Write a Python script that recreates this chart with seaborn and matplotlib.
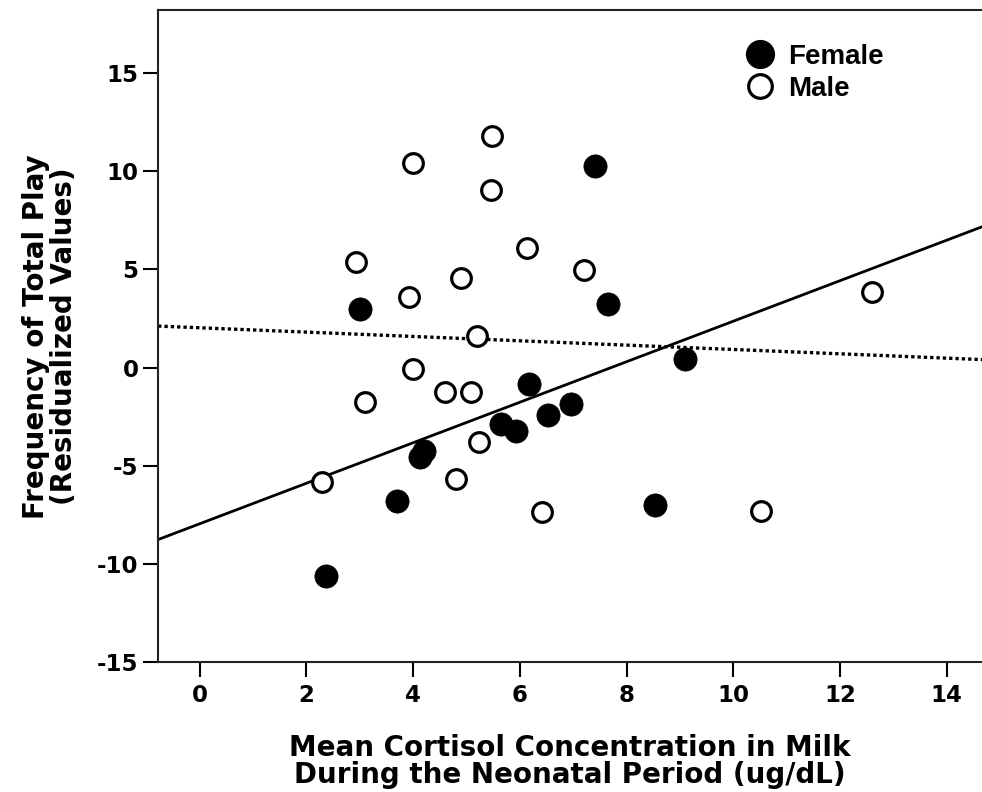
import numpy as np
import pandas as pd
import matplotlib
matplotlib.use("Agg")
import matplotlib.pyplot as plt
import seaborn as sns
from matplotlib.lines import Line2D

## data
female_cortisol = [7.41, 3.00, 7.66, 2.36, 3.69, 4.20, 4.12, 6.17, 5.64, 5.92, 6.53, 6.95, 9.09, 8.54]
female_play = [10.25, 3.00, 3.25, -10.59, -6.81, -4.24, -4.55, -0.85, -2.88, -3.22, -2.43, -1.87, 0.46, -7.00]

male_cortisol = [2.30, 2.92, 3.09, 4.00, 3.93, 5.19, 4.00, 4.89, 5.48, 5.46, 6.14, 7.20,
                 4.59, 5.09, 5.24, 4.80, 6.42, 10.52, 12.59]
male_play = [-5.85, 5.37, -1.73, 10.42, 3.59, 1.61, -0.09, 4.58, 11.81, 9.06, 6.10, 4.96,
             -1.22, -1.22, -3.81, -5.68, -7.37, -7.29, 3.84]

x_ticks = [0, 2, 4, 6, 8, 10, 12, 14]
y_ticks = [-15, -10, -5, 0, 5, 10, 15]

dtf_f = pd.DataFrame({"cortisol": female_cortisol, "play": female_play})
dtf_m = pd.DataFrame({"cortisol": male_cortisol, "play": male_play})

sns.set_style("ticks")
plt.rcParams['font.family'] = ['DejaVu Sans']
plt.rcParams.update({"text.color": "black", "axes.labelcolor": "black",
                     "xtick.color": "black", "ytick.color": "black"})

fig = plt.figure(figsize=(9.82, 7.92), dpi=100)
ax = fig.add_axes([0.161, 0.164, 0.839, 0.823])
ax.set_xlim(-0.78, 14.66)
ax.set_ylim(-15, 18.2)

### fit lines (drawn across the whole axis)
sns.regplot(data=dtf_f, x="cortisol", y="play", ci=None, truncate=False, scatter=False,
            line_kws=dict(color="black", lw=2.0, zorder=2), ax=ax)
sns.regplot(data=dtf_m, x="cortisol", y="play", ci=None, truncate=False, scatter=False,
            line_kws=dict(color="black", lw=2.4, ls=(0, (1, 0.9)), zorder=2), ax=ax)

### points
sns.scatterplot(data=dtf_f, x="cortisol", y="play", s=280, color="black",
                edgecolor="black", linewidth=0.5, zorder=3, ax=ax)
sns.scatterplot(data=dtf_m, x="cortisol", y="play", s=200, facecolor="white",
                edgecolor="black", linewidth=2.3, zorder=3, ax=ax)

ax.set_xlim(-0.78, 14.66)
ax.set_ylim(-15, 18.2)
ax.set_xticks(x_ticks)
ax.set_yticks(y_ticks)
ax.set_xticklabels([str(t) for t in x_ticks], fontsize=16.5, fontweight="bold")
ax.set_yticklabels([str(t) for t in y_ticks], fontsize=16.5, fontweight="bold")
ax.tick_params(axis="both", direction="out", length=11, width=1.5, color="black")
ax.tick_params(axis="x", pad=5)
ax.tick_params(axis="y", pad=3)

for side in ["left", "bottom", "top"]:
    ax.spines[side].set_linewidth(1.5)
    ax.spines[side].set_color("#222222")
ax.spines["right"].set_visible(False)

ax.set_xlabel("Mean Cortisol Concentration in Milk\nDuring the Neonatal Period (ug/dL)",
              fontsize=20, fontweight="bold", linespacing=0.97, labelpad=19)
ax.set_ylabel("Frequency of Total Play\n(Residualized Values)",
              fontsize=20, fontweight="bold", linespacing=0.97, labelpad=14)

handles = [Line2D([], [], marker="o", ls="", markersize=20, markerfacecolor="black",
                  markeredgecolor="black", label="Female"),
           Line2D([], [], marker="o", ls="", markersize=17, markerfacecolor="white",
                  markeredgecolor="black", markeredgewidth=2.3, label="Male")]
leg = ax.legend(handles=handles, loc="upper left", bbox_to_anchor=(0.69, 0.978), frameon=False,
                handletextpad=0.52, labelspacing=0.2, borderpad=0.2, handlelength=1.0,
                prop=dict(family="Liberation Sans", weight="bold", size=20))

fig.savefig("out.png", dpi=100)
